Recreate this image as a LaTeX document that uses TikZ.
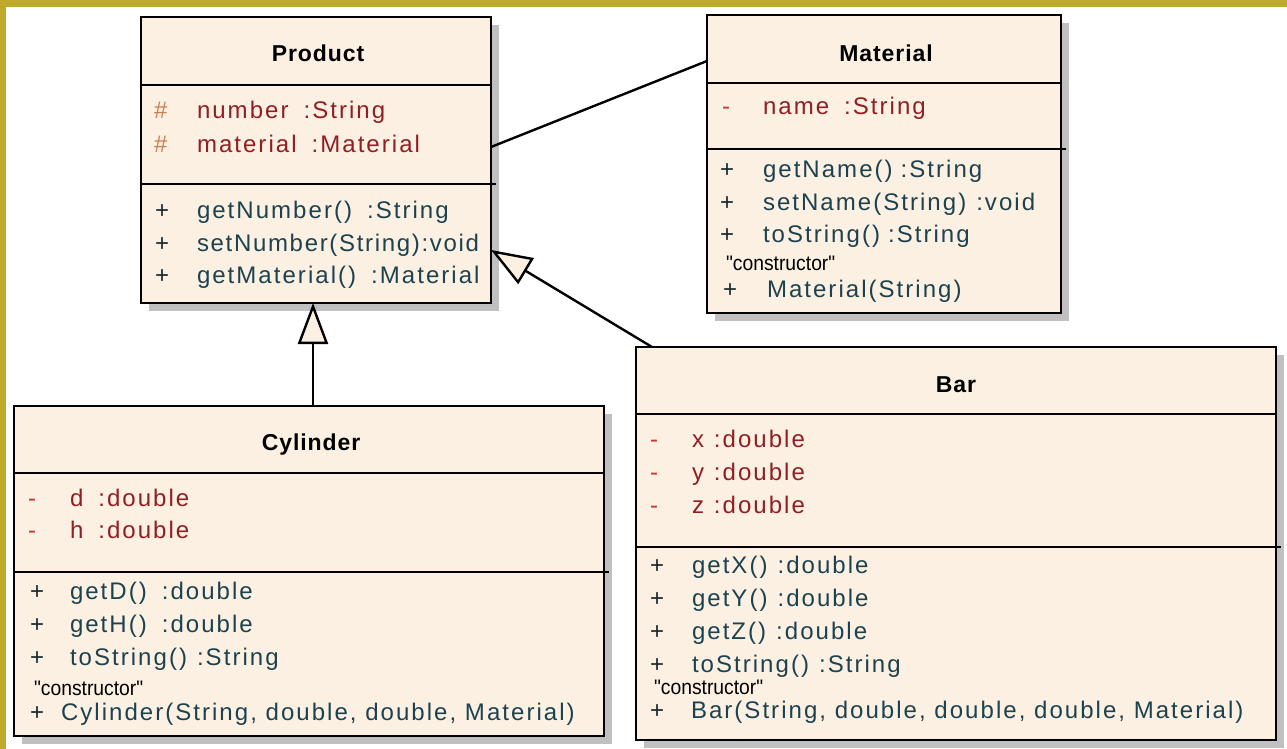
\documentclass[tikz,border=0pt]{standalone}
\usepackage{fontspec}
\setmainfont{Liberation Sans}
\newfontfamily\umlfam[LetterSpace=8.5]{Liberation Sans}
\newfontfamily\umltightfam[LetterSpace=7]{Liberation Sans}
\newfontfamily\umltitlefam[LetterSpace=4]{Liberation Sans}
\newfontfamily\umlnotefam[FakeStretch=0.92]{Liberation Sans}
\usetikzlibrary{arrows.meta,shadows,calc}

\definecolor{boxfill}{RGB}{251,240,225}
\definecolor{shadowgray}{RGB}{192,192,192}
\definecolor{framegold}{RGB}{191,169,42}
\definecolor{attrcol}{RGB}{145,30,35}
\definecolor{opcol}{RGB}{28,66,80}
\definecolor{hashcol}{RGB}{205,125,80}
\definecolor{minuscol}{RGB}{200,55,45}
\definecolor{pluscol}{RGB}{25,40,45}

% gaps between a member name and its type
\newcommand\wgap{\hspace{15pt}}
\newcommand\mgap{\hspace{10pt}}
\newcommand\ngap{\hspace{8pt}}

\tikzset{
  classbox/.style={draw=black, line width=2.7pt, fill=boxfill, inner sep=0pt,
    outer sep=0pt, anchor=north west,
    general shadow={fill=shadowgray, shadow xshift=8pt, shadow yshift=-8pt}},
  txt/.style={anchor=base west, inner sep=0pt, outer sep=0pt,
    font=\umlfam\fontsize{24}{28}\selectfont},
  tighttxt/.style={font=\umltightfam\fontsize{24}{28}\selectfont},
  attr/.style={txt, text=attrcol},
  oper/.style={txt, text=opcol},
  protmark/.style={txt, text=hashcol},
  privmark/.style={txt, text=minuscol},
  pubmark/.style={txt, text=pluscol},
  ctornote/.style={anchor=base west, inner sep=0pt, outer sep=0pt,
    font=\umlnotefam\fontsize{21}{24}\selectfont, text=black},
  classname/.style={anchor=base, inner sep=0pt, outer sep=0pt,
    font=\umltitlefam\bfseries\fontsize{23}{27}\selectfont},
  divider/.style={line width=2.3pt},
  assoc/.style={line width=2.4pt},
  inherit/.style={line width=2.4pt, line join=miter,
    -{Triangle[length=41pt,width=30pt,fill=boxfill]}},
}

\begin{document}
\begin{tikzpicture}[x=1pt,y=-1pt]
\useasboundingbox (0,0) rectangle (1287,749);
\fill[white] (0,0) rectangle (1287,749);
\fill[framegold] (0,0) rectangle (1287,7);
\fill[framegold] (0,0) rectangle (6,749);

% ---------- class boxes ----------
\node[classbox, minimum width=350pt, minimum height=286pt] (prod) at (141,17) {};
\node[classbox, minimum width=354pt, minimum height=298pt] (mat) at (707,15) {};
\node[classbox, minimum width=590pt, minimum height=330pt] (cyl) at (14,406) {};
\node[classbox, minimum width=640pt, minimum height=393pt] (bar) at (636,347) {};

% compartment separators
\draw[divider] (prod.west |- 0,85) -- (prod.east |- 0,85);
\draw[divider] (prod.west |- 0,184) -- ($(prod.east |- 0,184)+(5,0)$);
\draw[divider] (mat.west |- 0,83) -- (mat.east |- 0,83);
\draw[divider] (mat.west |- 0,149) -- ($(mat.east |- 0,149)+(5,0)$);
\draw[divider] (cyl.west |- 0,473) -- (cyl.east |- 0,473);
\draw[divider] (cyl.west |- 0,572) -- ($(cyl.east |- 0,572)+(5,0)$);
\draw[divider] (bar.west |- 0,414) -- (bar.east |- 0,414);
\draw[divider] (bar.west |- 0,547) -- ($(bar.east |- 0,547)+(5,0)$);

% ---------- Product ----------
\node[classname] (prod-name) at (318,62) {Product};
\node[protmark] (prod-m1) at (154,119) {\#};
\node[attr] (prod-a1) at (197,119) {number\wgap:String};
\node[protmark] (prod-m2) at (154,152) {\#};
\node[attr] (prod-a2) at (197,152) {material\wgap:Material};
\node[pubmark] (prod-m3) at (155,218) {+};
\node[oper] (prod-o1) at (197,218) {getNumber()\wgap:String};
\node[pubmark] (prod-m4) at (155,251) {+};
\node[oper, tighttxt] (prod-o2) at (197,251) {setNumber(String):void};
\node[pubmark] (prod-m5) at (155,283) {+};
\node[oper] (prod-o3) at (197,283) {getMaterial()\wgap:Material};

% ---------- Material ----------
\node[classname] (mat-name) at (886,62) {Material};
\node[privmark] (mat-m1) at (722,115) {-};
\node[attr] (mat-a1) at (763,115) {name\wgap:String};
\node[pubmark] (mat-m2) at (720,177) {+};
\node[oper] (mat-o1) at (763,177) {getName()\ngap:String};
\node[pubmark] (mat-m3) at (720,210) {+};
\node[oper] (mat-o2) at (763,210) {setName(String)\mgap:void};
\node[pubmark] (mat-m4) at (720,242) {+};
\node[oper] (mat-o3) at (763,242) {toString()\ngap:String};
\node[ctornote] (mat-note) at (726,270) {"constructor"};
\node[pubmark] (mat-m5) at (723,297) {+};
\node[oper] (mat-c) at (767,297) {Material(String)};

% ---------- Cylinder ----------
\node[classname] (cyl-name) at (311,450) {Cylinder};
\node[privmark] (cyl-m1) at (28,506) {-};
\node[attr] (cyl-a1) at (70,506) {d\wgap:double};
\node[privmark] (cyl-m2) at (28,538) {-};
\node[attr] (cyl-a2) at (70,538) {h\wgap:double};
\node[pubmark] (cyl-m3) at (30,599) {+};
\node[oper] (cyl-o1) at (70,599) {getD()\wgap:double};
\node[pubmark] (cyl-m4) at (30,632) {+};
\node[oper] (cyl-o2) at (70,632) {getH()\wgap:double};
\node[pubmark] (cyl-m5) at (30,665) {+};
\node[oper] (cyl-o3) at (70,665) {toString()\mgap:String};
\node[ctornote] (cyl-note) at (34,695) {"constructor"};
\node[pubmark] (cyl-m6) at (30,720) {+};
\node[oper] (cyl-c) at (61,720) {Cylinder(String, double, double, Material)};

% ---------- Bar ----------
\node[classname] (bar-name) at (956,392) {Bar};
\node[privmark] (bar-m1) at (650,447) {-};
\node[attr] (bar-a1) at (692,447) {x\mgap:double};
\node[privmark] (bar-m2) at (650,480) {-};
\node[attr] (bar-a2) at (692,480) {y\mgap:double};
\node[privmark] (bar-m3) at (650,513) {-};
\node[attr] (bar-a3) at (692,513) {z\mgap:double};
\node[pubmark] (bar-m4) at (650,573) {+};
\node[oper] (bar-o1) at (692,573) {getX()\mgap:double};
\node[pubmark] (bar-m5) at (650,606) {+};
\node[oper] (bar-o2) at (692,606) {getY()\mgap:double};
\node[pubmark] (bar-m6) at (650,639) {+};
\node[oper] (bar-o3) at (692,639) {getZ()\mgap:double};
\node[pubmark] (bar-m7) at (650,672) {+};
\node[oper] (bar-o4) at (692,672) {toString()\mgap:String};
\node[ctornote] (bar-note) at (654,694) {"constructor"};
\node[pubmark] (bar-m8) at (650,718) {+};
\node[oper] (bar-c) at (691,718) {Bar(String, double, double, double, Material)};

% ---------- relations ----------
\draw[assoc] (prod.east |- 0,147) -- (mat.west |- 0,61);
\draw[inherit] (cyl.north -| 313,0) -- (prod.south -| 313,0);
\draw[inherit] (bar.north -| 652,0) -- (prod.east |- 0,250);
\end{tikzpicture}
\end{document}
